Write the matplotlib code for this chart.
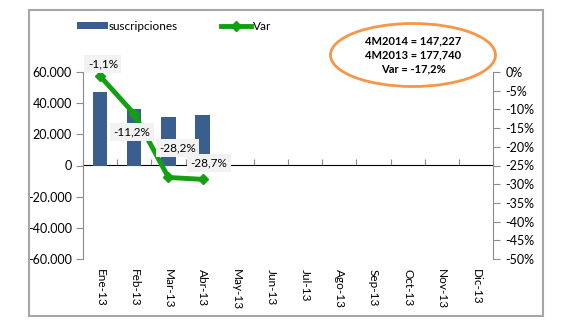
import matplotlib
matplotlib.use("Agg")
import matplotlib.pyplot as plt
from matplotlib.patches import Ellipse, Rectangle
from matplotlib.ticker import FuncFormatter
import numpy as np

plt.rcParams['font.family'] = ['Lato', 'DejaVu Sans']

months = ["Ene-13", "Feb-13", "Mar-13", "Abr-13", "May-13", "Jun-13",
          "Jul-13", "Ago-13", "Sep-13", "Oct-13", "Nov-13", "Dic-13"]
suscripciones = [47000, 36500, 31300, 32400]
var = [-0.011, -0.112, -0.282, -0.287]
var_labels = ["-1,1%", "-11,2%", "-28,2%", "-28,7%"]
summary = ["4M2014 = 147,227", "4M2013 = 177,740", "Var = -17,2%"]

bar_color = "#3A5F8F"
line_color = "#12A012"
grey = "#8C8C8C"

W, H = 575, 335
fig = plt.figure(figsize=(W/100, H/100), dpi=100)

# outer frame
fig.patches.append(Rectangle((29/W, 1-316/H), (543-29)/W, (316-10)/H,
                             transform=fig.transFigure, fill=False,
                             edgecolor="#A6A6A6", linewidth=1.5))

ax = fig.add_axes([83/W, 1-259/H, (493-83)/W, (259-72)/H])
x = np.arange(len(months))
xb = np.arange(len(suscripciones))
ax.bar(xb, suscripciones, width=0.42, color=bar_color, zorder=2,
       label="suscripciones")
ax.set_xlim(-0.5, len(months)-0.5)
ax.set_ylim(-60000, 60000)
ax.set_yticks(np.arange(-60000, 60001, 20000))
ax.yaxis.set_major_formatter(FuncFormatter(lambda v, p: f"{int(v):,}".replace(",", ".")))
for s in ["top", "right", "bottom"]:
    ax.spines[s].set_visible(False)
ax.spines["left"].set_color(grey)
ax.tick_params(axis="y", direction="out", length=5, color=grey, labelsize=9, pad=3)
ax.set_xticks(x)
ax.set_xticklabels(months, rotation=270, fontsize=8.5, ha="center",
                   rotation_mode="default")
ax.tick_params(axis="x", length=0, pad=7)

# category axis at zero
sec = ax.secondary_xaxis(0.5)
sec.spines["bottom"].set_color(grey)
sec.set_xticks(np.arange(len(months)+1) - 0.5)
sec.set_xticklabels([])
sec.tick_params(axis="x", direction="out", length=4, color=grey)

ax2 = ax.twinx()
ax2.set_ylim(-0.5, 0)
ax2.set_yticks(np.arange(-0.5, 0.001, 0.05))
ax2.yaxis.set_major_formatter(FuncFormatter(lambda v, p: f"{round(v*100):d}%"))
for s in ["top", "left", "bottom"]:
    ax2.spines[s].set_visible(False)
ax2.spines["right"].set_color(grey)
ax2.tick_params(axis="y", direction="out", length=5, color=grey, labelsize=9, pad=4)
ax2.plot(xb, var, color=line_color, linewidth=3.5, marker="D", markersize=5,
         zorder=3, label="Var")

offsets = [(2, 9), (-1.5, -13), (6.5, 21.5), (4.3, 11.5)]
for i, (v, lab) in enumerate(zip(var, var_labels)):
    dx, dy = offsets[i]
    ax2.annotate(lab, (xb[i], v), xytext=(dx, dy), textcoords="offset points",
                 ha="center", va="center", fontsize=8.5, zorder=5,
                 bbox=dict(boxstyle="square,pad=0.3", facecolor="#F2F2F2",
                           edgecolor="none"))

# legend
h1, l1 = ax.get_legend_handles_labels()
h2, l2 = ax2.get_legend_handles_labels()
fig.legend(h1 + h2, l1 + l2, loc="center", bbox_to_anchor=(174/W, 1-26/H),
           ncol=2, frameon=False, fontsize=8.5, handlelength=2.6,
           handleheight=0.6, columnspacing=3.6, handletextpad=0.1)

# summary ellipse
fig.patches.append(Ellipse((413/W, 1-55/H), 165/W, 63/H,
                           transform=fig.transFigure, fill=False,
                           edgecolor="#F79646", linewidth=2))
for j, t in enumerate(summary):
    fig.text(413/W, 1-(41+14*j)/H, t, ha="center", va="center",
             fontsize=8, fontweight="bold")

fig.savefig("out.png", dpi=100)
